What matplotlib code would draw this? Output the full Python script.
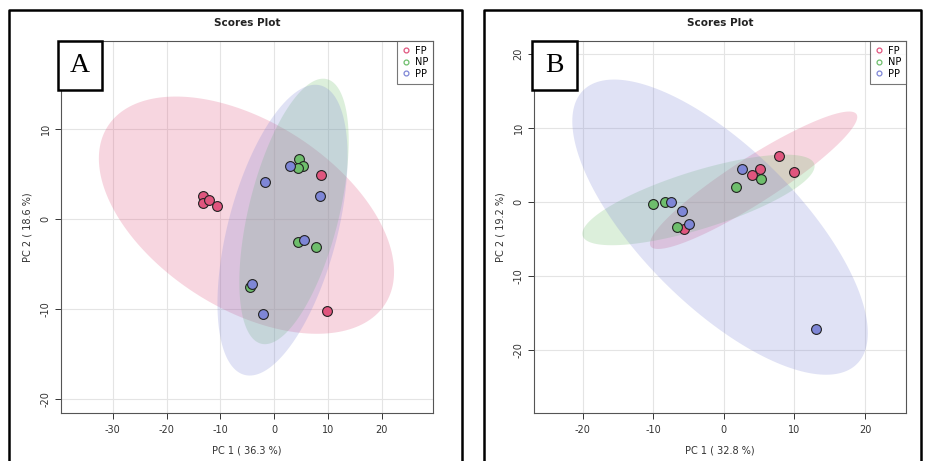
import numpy as np
import matplotlib
matplotlib.use("Agg")
import matplotlib.pyplot as plt
from matplotlib.patches import Rectangle
from matplotlib.lines import Line2D

plt.rcParams['axes.unicode_minus'] = False

# group colours (MetaboAnalyst-like)
groups = ['FP', 'NP', 'PP']
colors = {'FP': '#E0557E', 'NP': '#6EBE6C', 'PP': '#7E86D6'}

# panel A scores (PC1, PC2)
a_fp_x = [-13.3, -13.3, -12.1, -10.7, 8.7, 9.8]
a_fp_y = [2.6, 1.8, 2.1, 1.4, 4.9, -10.3]
a_np_x = [4.6, 5.3, 4.4, 4.5, 7.7, -4.4]
a_np_y = [6.7, 5.9, 5.7, -2.6, -3.1, -7.6]
a_pp_x = [3.0, -1.7, 8.5, 5.6, -4.1, -2.0]
a_pp_y = [5.9, 4.1, 2.6, -2.3, -7.2, -10.6]

# panel B scores
b_fp_x = [7.75, 9.9, 5.1, 4.0, -5.7]
b_fp_y = [6.2, 4.05, 4.5, 3.7, -3.6]
b_np_x = [5.3, 1.7, -10.1, -8.3, -6.6]
b_np_y = [3.15, 2.0, -0.2, 0.0, -3.4]
b_pp_x = [2.55, -7.55, -5.9, -4.9, 13.1]
b_pp_y = [4.45, 0.0, -1.2, -3.0, -17.1]

a_xticks = [-30, -20, -10, 0, 10, 20]
a_yticks = [-20, -10, 0, 10]
b_xticks = [-20, -10, 0, 10, 20]
b_yticks = [-20, -10, 0, 10, 20]

W, H = 925, 461
fig = plt.figure(figsize=(W / 100, H / 100), dpi=100)


def conf_ellipse(x, y, level=0.95, n=200):
    x = np.asarray(x); y = np.asarray(y)
    cov = np.cov(x, y)
    vals, vecs = np.linalg.eigh(cov)
    t = np.sqrt(-2 * np.log(1 - level))
    th = np.linspace(0, 2 * np.pi, n)
    circ = np.vstack([np.cos(th), np.sin(th)])
    pts = vecs @ (np.sqrt(vals)[:, None] * circ) * t
    return pts[0] + x.mean(), pts[1] + y.mean()


def panel(rect, data, xticks, yticks, xlim, ylim, xlabel, ylabel, letter, box_px):
    ax = fig.add_axes(rect)
    for g in groups:
        ex, ey = conf_ellipse(*data[g])
        ax.fill(ex, ey, color=colors[g], alpha=0.24, lw=0, zorder=1)
    for g in groups:
        ax.scatter(data[g][0], data[g][1], s=50, c=colors[g], edgecolors='#222222',
                   linewidths=0.8, zorder=3)
    ax.set_xlim(xlim)
    ax.set_ylim(ylim)
    ax.set_xticks(xticks)
    ax.set_yticks(yticks)
    ax.grid(True, color='#E4E4E4', lw=0.8, zorder=0)
    ax.set_axisbelow(True)
    for s in ax.spines.values():
        s.set_color('#555555')
        s.set_linewidth(0.8)
    ax.tick_params(labelsize=7, colors='#333333', length=4.5, width=0.7, pad=4)
    ax.tick_params(axis='y', pad=3)
    for lab in ax.get_yticklabels():
        lab.set_rotation(90)
        lab.set_va('center')
    ax.set_xlabel(xlabel, fontsize=7, color='#333333', labelpad=8)
    ax.set_ylabel(ylabel, fontsize=7, color='#333333', labelpad=6)
    ax.set_title('Scores Plot', fontsize=7.5, fontweight='bold', color='#222222', pad=11)
    handles = [Line2D([], [], ls='none', marker='o', ms=3.5, mfc='none', mec=colors[g],
                      mew=0.9, label=g) for g in groups]
    leg = ax.legend(handles=handles, loc='upper right', fontsize=7, frameon=True,
                    fancybox=False, borderaxespad=0, handlelength=0.8, handletextpad=0.5,
                    labelspacing=0.15, borderpad=0.5, edgecolor='#555555')
    leg.get_frame().set_linewidth(0.8)
    leg.set_zorder(5)
    # letter box
    x0, y0, x1, y1 = box_px
    fig.patches.append(Rectangle((x0 / W, 1 - y1 / H), (x1 - x0) / W, (y1 - y0) / H,
                                 transform=fig.transFigure, fill=True, fc='white',
                                 ec='black', lw=1.8, zorder=10))
    fig.text((x0 + x1) / 2 / W, 1 - (y0 + y1) / 2 / H, letter, ha='center', va='center',
             family='Liberation Serif', fontsize=20, zorder=11)
    return ax


data_a = {'FP': (a_fp_x, a_fp_y), 'NP': (a_np_x, a_np_y), 'PP': (a_pp_x, a_pp_y)}
data_b = {'FP': (b_fp_x, b_fp_y), 'NP': (b_np_x, b_np_y), 'PP': (b_pp_x, b_pp_y)}

panel([61 / W, 1 - 413 / H, 372 / W, 372 / H], data_a, a_xticks, a_yticks,
      (-39.6, 29.5), (-21.6, 19.8), 'PC 1 ( 36.3 %)', 'PC 2 ( 18.6 %)', 'A',
      (58, 41, 102, 90))
panel([534 / W, 1 - 413 / H, 372 / W, 372 / H], data_b, b_xticks, b_yticks,
      (-26.9, 25.8), (-28.5, 21.8), 'PC 1 ( 32.8 %)', 'PC 2 ( 19.2 %)', 'B',
      (532, 41, 577, 90))

# outer panel frames (open at the bottom)
for x0, x1 in [(9, 462), (483.5, 921)]:
    fig.lines.append(Line2D([x0 / W, x0 / W, x1 / W, x1 / W],
                            [0, 1 - 10 / H, 1 - 10 / H, 0],
                            transform=fig.transFigure, color='black', lw=1.8))

fig.savefig('out.png', dpi=100)
